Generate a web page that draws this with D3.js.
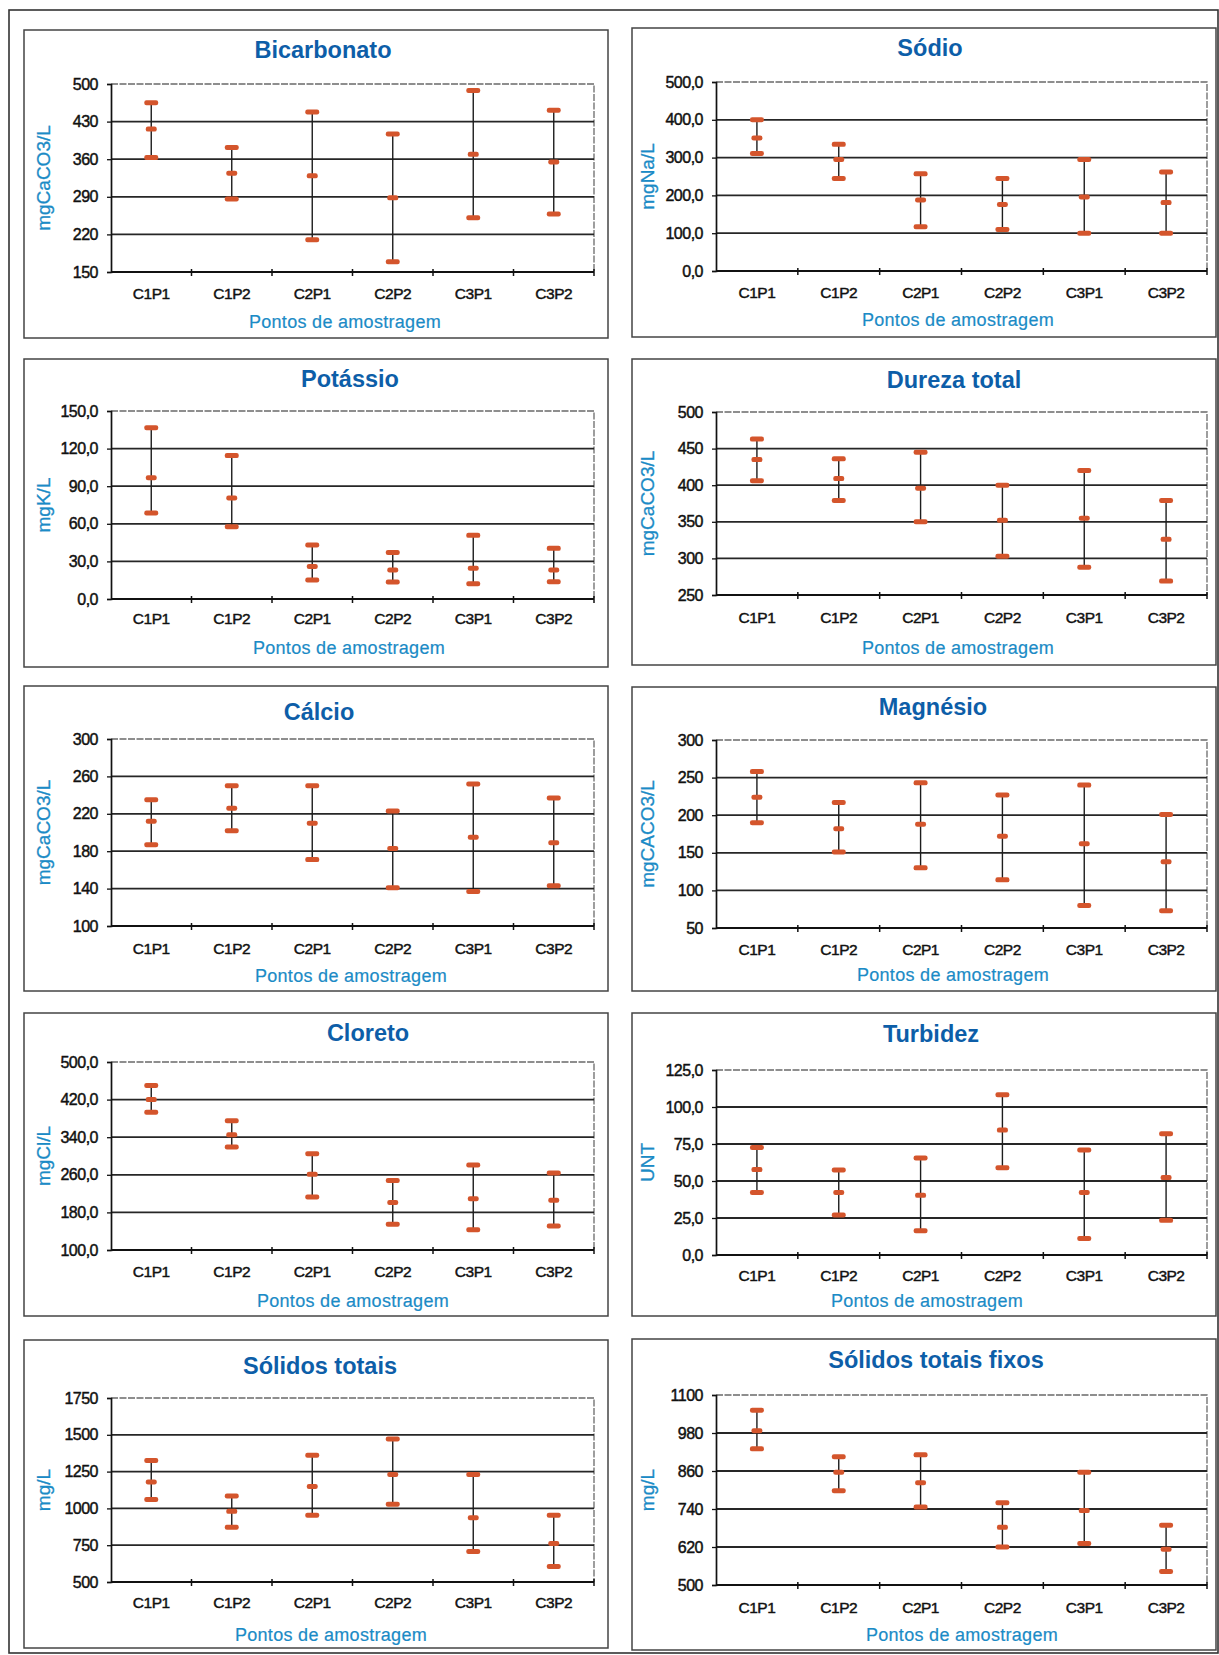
<!DOCTYPE html>
<html>
<head>
<meta charset="utf-8">
<script src="https://cdn.jsdelivr.net/npm/d3@7"></script>
<style>
  html, body { margin: 0; padding: 0; background: #fff; }
  svg { display: block; font-family: "Liberation Sans", Arial, sans-serif; }
</style>
</head>
<body>
<svg id="chart" width="1219" height="1655"></svg>
<script>
// ---- Data -------------------------------------------------------------
const categories = ["C1P1", "C1P2", "C2P1", "C2P2", "C3P1", "C3P2"];
const xAxisTitle = "Pontos de amostragem";

// Each parameter: maximum, mean and minimum per sampling point
const bicarbonatoMax  = [465, 382, 448, 407, 488, 451];
const bicarbonatoMean = [416, 334, 329, 288, 369, 355];
const bicarbonatoMin  = [363, 286, 210, 169, 251, 258];
const bicarbonatoTicks = [150, 220, 290, 360, 430, 500];

const sodioMax  = [400, 335, 257, 245, 295, 262];
const sodioMean = [352, 295, 188, 176, 196, 181];
const sodioMin  = [311, 245, 117, 110, 100, 100];
const sodioTicks = [0, 100, 200, 300, 400, 500];

const potassioMax  = [136.7, 114.4, 43.1, 37.2, 50.8, 40.4];
const potassioMean = [96.8, 80.6, 26.0, 23.1, 24.5, 23.1];
const potassioMin  = [68.6, 57.7, 15.2, 13.6, 12.2, 13.8];
const potassioTicks = [0, 30, 60, 90, 120, 150];

const durezaMax  = [463, 436, 445, 400, 420, 379];
const durezaMean = [435, 409, 396, 352, 355, 326];
const durezaMin  = [406, 379, 350, 303, 288, 269];
const durezaTicks = [250, 300, 350, 400, 450, 500];

const calcioMax  = [235, 250, 250, 223, 252, 237];
const calcioMean = [212, 226, 210, 183, 195, 189];
const calcioMin  = [187, 202, 171, 141, 137, 143];
const calcioTicks = [100, 140, 180, 220, 260, 300];

const magnesioMax  = [258, 217, 243, 227, 240, 201];
const magnesioMean = [224, 182, 188, 172, 162, 138];
const magnesioMin  = [190, 151, 130, 114, 80, 73];
const magnesioTicks = [50, 100, 150, 200, 250, 300];

const cloretoMax  = [450, 375, 305, 248, 281, 264];
const cloretoMean = [420, 345, 261, 201, 209, 206];
const cloretoMin  = [393, 319, 213, 155, 143, 151];
const cloretoTicks = [100, 180, 260, 340, 420, 500];

const turbidezMax  = [72.6, 57.5, 65.6, 108.3, 71.0, 81.9];
const turbidezMean = [57.7, 42.2, 40.3, 84.4, 42.2, 52.3];
const turbidezMin  = [42.2, 27.0, 16.4, 59.0, 11.2, 23.4];
const turbidezTicks = [0, 25, 50, 75, 100, 125];

const solidosMax  = [1325, 1084, 1361, 1472, 1230, 954];
const solidosMean = [1180, 980, 1149, 1230, 936, 762];
const solidosMin  = [1060, 872, 954, 1029, 708, 606];
const solidosTicks = [500, 750, 1000, 1250, 1500, 1750];

const fixosMax  = [1052, 905, 911, 760, 856, 689];
const fixosMean = [987, 856, 823, 682, 735, 613];
const fixosMin  = [930, 798, 746, 620, 631, 543];
const fixosTicks = [500, 620, 740, 860, 980, 1100];

const panels = [
  { title: "Bicarbonato",         unit: "mgCaCO3/L", max: bicarbonatoMax, mean: bicarbonatoMean, min: bicarbonatoMin, ticks: bicarbonatoTicks, decimals: 0 },
  { title: "Sódio",               unit: "mgNa/L",    max: sodioMax,       mean: sodioMean,       min: sodioMin,       ticks: sodioTicks,       decimals: 1 },
  { title: "Potássio",            unit: "mgK/L",     max: potassioMax,    mean: potassioMean,    min: potassioMin,    ticks: potassioTicks,    decimals: 1 },
  { title: "Dureza total",        unit: "mgCaCO3/L", max: durezaMax,      mean: durezaMean,      min: durezaMin,      ticks: durezaTicks,      decimals: 0 },
  { title: "Cálcio",              unit: "mgCaCO3/L", max: calcioMax,      mean: calcioMean,      min: calcioMin,      ticks: calcioTicks,      decimals: 0 },
  { title: "Magnésio",            unit: "mgCACO3/L", max: magnesioMax,    mean: magnesioMean,    min: magnesioMin,    ticks: magnesioTicks,    decimals: 0 },
  { title: "Cloreto",             unit: "mgCl/L",    max: cloretoMax,     mean: cloretoMean,     min: cloretoMin,     ticks: cloretoTicks,     decimals: 1 },
  { title: "Turbidez",            unit: "UNT",       max: turbidezMax,    mean: turbidezMean,    min: turbidezMin,    ticks: turbidezTicks,    decimals: 1 },
  { title: "Sólidos totais",      unit: "mg/L",      max: solidosMax,     mean: solidosMean,     min: solidosMin,     ticks: solidosTicks,     decimals: 0 },
  { title: "Sólidos totais fixos",unit: "mg/L",      max: fixosMax,       mean: fixosMean,       min: fixosMin,       ticks: fixosTicks,       decimals: 0 }
];

// ---- Layout -----------------------------------------------------------
const columns = [
  { x0: 24,  x1: 608,  plotL: 111, plotR: 594 },
  { x0: 632, x1: 1216, plotL: 716, plotR: 1207 }
];
// per panel: box top/bottom, plot top/bottom, title centre, label rows
const boxes = [
  { top: 30,   bottom: 338,  pt: 84,   pb: 272,  tx: 323, ty: 50,   ly: 293,  xtx: 345, xty: 322 },
  { top: 28,   bottom: 337,  pt: 82,   pb: 271,  tx: 930, ty: 48,   ly: 292,  xtx: 958, xty: 320 },
  { top: 359,  bottom: 667,  pt: 411,  pb: 599,  tx: 350, ty: 379,  ly: 618,  xtx: 349, xty: 648 },
  { top: 359,  bottom: 665,  pt: 412,  pb: 595,  tx: 954, ty: 380,  ly: 617,  xtx: 958, xty: 648 },
  { top: 686,  bottom: 991,  pt: 739,  pb: 926,  tx: 319, ty: 712,  ly: 948,  xtx: 351, xty: 976 },
  { top: 687,  bottom: 991,  pt: 740,  pb: 928,  tx: 933, ty: 707,  ly: 949,  xtx: 953, xty: 975 },
  { top: 1013, bottom: 1316, pt: 1062, pb: 1250, tx: 368, ty: 1033, ly: 1271, xtx: 353, xty: 1301 },
  { top: 1013, bottom: 1316, pt: 1070, pb: 1255, tx: 931, ty: 1034, ly: 1275, xtx: 927, xty: 1301 },
  { top: 1340, bottom: 1648, pt: 1398, pb: 1582, tx: 320, ty: 1366, ly: 1602, xtx: 331, xty: 1635 },
  { top: 1339, bottom: 1650, pt: 1395, pb: 1585, tx: 936, ty: 1360, ly: 1607, xtx: 962, xty: 1635 }
];

const TITLE_BLUE = "#0d5ea8";
const LABEL_BLUE = "#1b8bc6";
const MARK_RED = "#d4552c";
const INK = "#111";

const ptLocale = d3.formatLocale({ decimal: ",", thousands: ".", grouping: [3], currency: ["R$", ""] });

const svg = d3.select("#chart");

// outer frame
svg.append("rect")
  .attr("x", 9).attr("y", 10).attr("width", 1209).attr("height", 1643)
  .attr("fill", "none").attr("stroke", "#333").attr("stroke-width", 1.6);

panels.forEach((p, i) => {
  const col = columns[i % 2];
  const b = boxes[i];
  const g = svg.append("g");

  // panel frame
  g.append("rect")
    .attr("x", col.x0).attr("y", b.top)
    .attr("width", col.x1 - col.x0).attr("height", b.bottom - b.top)
    .attr("fill", "#fff").attr("stroke", "#444").attr("stroke-width", 1.5);

  const x = d3.scaleBand().domain(categories).range([col.plotL, col.plotR]).padding(0);
  const y = d3.scaleLinear().domain(d3.extent(p.ticks)).range([b.pb, b.pt]);

  // plot area outline (top / right)
  g.append("path")
    .attr("d", `M${col.plotL},${b.pt}H${col.plotR}V${b.pb}`)
    .attr("fill", "none").attr("stroke", "#6a6a6a").attr("stroke-width", 1.3)
    .attr("stroke-dasharray", "7,1.5");

  // horizontal gridlines
  g.append("g").selectAll("line")
    .data(p.ticks.slice(1, -1))
    .join("line")
    .attr("x1", col.plotL).attr("x2", col.plotR)
    .attr("y1", d => y(d)).attr("y2", d => y(d))
    .attr("stroke", "#262626").attr("stroke-width", 1.8);

  // y axis
  const fmt = p.decimals ? ptLocale.format(".1f") : d3.format("d");
  const yAxis = d3.axisLeft(y).tickValues(p.ticks).tickFormat(fmt).tickSize(4).tickPadding(9);
  const ya = g.append("g").attr("transform", `translate(${col.plotL},0)`).call(yAxis);
  ya.select(".domain").attr("stroke", INK).attr("stroke-width", 1.7);
  ya.selectAll(".tick line").attr("stroke", INK).attr("stroke-width", 1.3);
  ya.selectAll(".tick text")
    .attr("font-size", 16).attr("fill", INK)
    .attr("font-family", "'Liberation Sans', Arial, sans-serif")
    .attr("letter-spacing", "-0.5px")
    .attr("stroke", INK).attr("stroke-width", 0.45);

  // x axis line with boundary ticks
  g.append("line")
    .attr("x1", col.plotL).attr("x2", col.plotR)
    .attr("y1", b.pb).attr("y2", b.pb)
    .attr("stroke", INK).attr("stroke-width", 1.9);
  const edges = categories.slice(1).map(c => x(c)).concat([col.plotR]);
  g.append("g").selectAll("line")
    .data(edges)
    .join("line")
    .attr("x1", d => d).attr("x2", d => d)
    .attr("y1", b.pb - 3).attr("y2", b.pb + 4)
    .attr("stroke", INK).attr("stroke-width", 1.5);

  // category labels
  g.append("g").selectAll("text")
    .data(categories)
    .join("text")
    .attr("x", d => x(d) + x.bandwidth() / 2)
    .attr("y", b.ly + 5.5)
    .attr("text-anchor", "middle")
    .attr("font-size", 15.5).attr("fill", INK)
    .attr("letter-spacing", "-0.5px")
    .attr("stroke", INK).attr("stroke-width", 0.45)
    .text(d => d);

  // error bars: min–max whisker with mean mark
  const cx = c => x(c) + x.bandwidth() / 2;
  const bars = g.append("g").selectAll("g")
    .data(categories.map((c, k) => ({ c, max: p.max[k], mean: p.mean[k], min: p.min[k] })))
    .join("g");
  bars.append("line")
    .attr("x1", d => cx(d.c)).attr("x2", d => cx(d.c))
    .attr("y1", d => y(d.max)).attr("y2", d => y(d.min))
    .attr("stroke", "#1d1d1d").attr("stroke-width", 1.4);
  const capW = 14, capH = 5, meanW = 11;
  bars.selectAll("rect.cap")
    .data(d => [d.max, d.min].map(v => ({ c: d.c, v })))
    .join("rect").attr("class", "cap")
    .attr("x", d => cx(d.c) - capW / 2).attr("y", d => y(d.v) - capH / 2)
    .attr("width", capW).attr("height", capH).attr("rx", 2.2)
    .attr("fill", MARK_RED);
  bars.append("rect")
    .attr("x", d => cx(d.c) - meanW / 2).attr("y", d => y(d.mean) - capH / 2)
    .attr("width", meanW).attr("height", capH).attr("rx", 2.2)
    .attr("fill", MARK_RED);

  // titles
  g.append("text")
    .attr("x", b.tx).attr("y", b.ty + 8)
    .attr("text-anchor", "middle")
    .attr("font-size", 23.5).attr("font-weight", "bold").attr("fill", TITLE_BLUE)
    .text(p.title);

  g.append("text")
    .attr("x", b.xtx).attr("y", b.xty + 6)
    .attr("text-anchor", "middle")
    .attr("font-size", 18).attr("fill", LABEL_BLUE)
    .attr("letter-spacing", "0.3px")
    .attr("stroke", LABEL_BLUE).attr("stroke-width", 0.2)
    .text(xAxisTitle);

  const ycx = col.x0 + (i % 2 ? 16 : 20);
  const ycy = (b.pt + b.pb) / 2;
  g.append("text")
    .attr("transform", `translate(${ycx + 6},${ycy}) rotate(-90)`)
    .attr("text-anchor", "middle")
    .attr("font-size", 19).attr("fill", LABEL_BLUE)
    .attr("stroke", LABEL_BLUE).attr("stroke-width", 0.3)
    .text(p.unit);
});
</script>
</body>
</html>
